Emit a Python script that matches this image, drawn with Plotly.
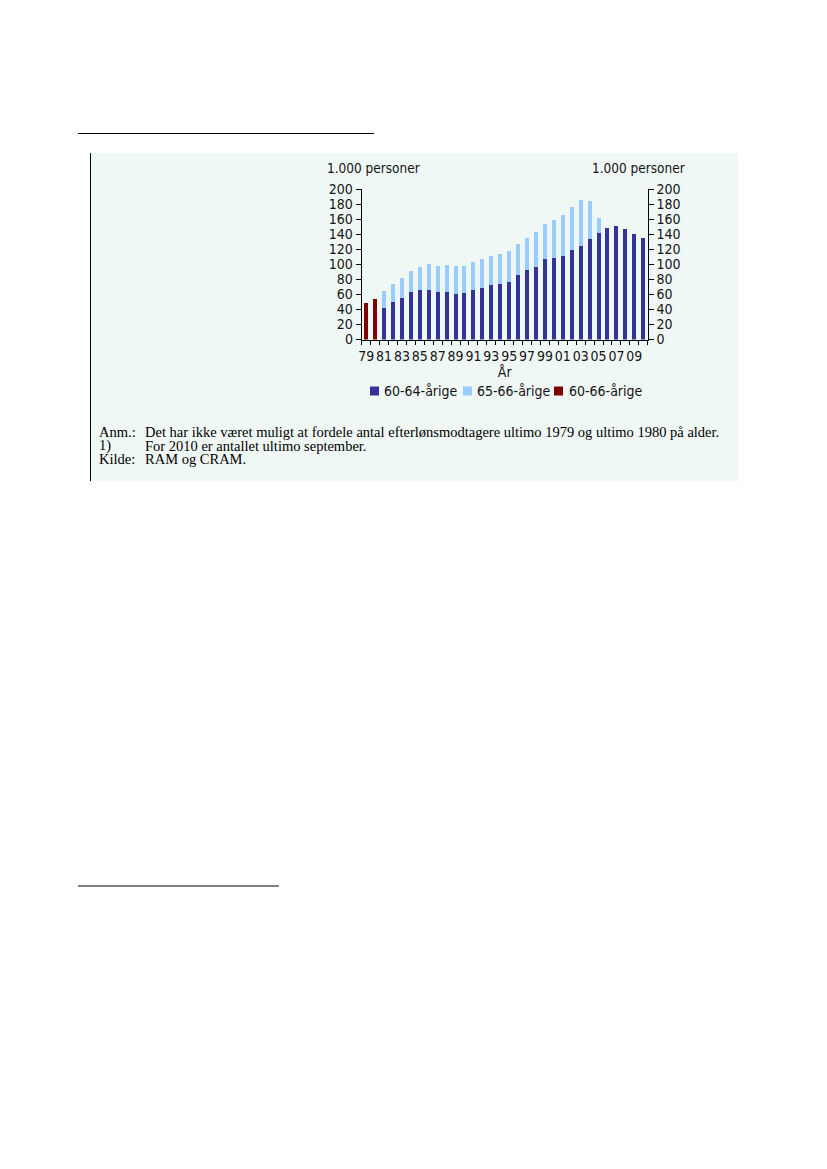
import plotly.graph_objects as go

W, H = 827, 1169

years_total = [1979, 1980]
total_60_66 = [48.1, 53.5]

years = list(range(1981, 2011))
age_60_64 = [41.4, 49.9, 54.8, 62.8, 65.5, 65.5, 62.8, 62.8, 60.1, 61.5,
             65.5, 68.2, 72.2, 73.5, 76.2, 85.5, 92.2, 96.2, 106.9, 108.2,
             110.9, 118.9, 124.3, 133.6, 141.6, 148.3, 151.0, 147.0, 140.3, 135.0]
age_65_66 = [22.7, 23.6, 26.7, 28.1, 30.7, 34.7, 34.7, 36.1, 37.4, 36.0,
             37.4, 38.7, 38.7, 40.1, 41.4, 41.4, 42.8, 46.8, 46.8, 50.8,
             54.8, 57.5, 61.4, 50.8, 20.1, 0, 0, 0, 0, 0]

tick_years = list(range(1979, 2010, 2))
tick_labels = [f"{y % 100:02d}" for y in tick_years]

series_names = ["60-64-årige", "65-66-årige", "60-66-årige"]
series_colors = ["#333399", "#99ccff", "#800000"]

FONT = "DejaVu Sans Condensed"
TXT = "#141414"
FS = 14

def px_x(x):
    return x / W

def px_y(y):
    return 1 - y / H

BW = 0.45
fig = go.Figure()
fig.add_trace(go.Bar(x=years, y=age_60_64, name=series_names[0],
                     marker=dict(color=series_colors[0], line=dict(width=0)), width=BW))
fig.add_trace(go.Bar(x=years, y=age_65_66, name=series_names[1],
                     marker=dict(color=series_colors[1], line=dict(width=0)), width=BW))
fig.add_trace(go.Bar(x=years_total, y=total_60_66, name=series_names[2],
                     marker=dict(color=series_colors[2], line=dict(width=0)), width=BW))
# invisible trace to anchor the right-hand axis
fig.add_trace(go.Scatter(x=[years[0]], y=[0], yaxis="y2", mode="markers",
                         marker=dict(opacity=0), showlegend=False, hoverinfo="skip"))

x0, x1 = 361.7, 647.7
ytop, ybot = 189.3, 339.5

yax_common = dict(
    range=[0, 200], dtick=20, tick0=0, tickmode="linear",
    ticks="outside", ticklen=5, tickcolor="black", tickwidth=1,
    showgrid=False, zeroline=False, automargin=False,
    showline=True, linecolor="black", linewidth=1,
    tickfont=dict(size=FS, color=TXT, family=FONT),
)

fig.update_layout(
    template="none",
    width=W, height=H, autosize=False,
    margin=dict(l=0, r=0, t=0, b=0, pad=0),
    paper_bgcolor="white",
    plot_bgcolor="rgba(0,0,0,0)",
    barmode="stack",
    showlegend=False,
    font=dict(family=FONT, size=FS, color=TXT),
    xaxis=dict(
        domain=[px_x(x0), px_x(x1)],
        range=[1978.5, 2010.5],
        tickmode="array", tickvals=tick_years, ticktext=tick_labels,
        tickangle=0,
        ticks="", showgrid=False, zeroline=False, automargin=False,
        showline=True, linecolor="black", linewidth=1,
        tickfont=dict(size=FS, color=TXT, family=FONT), ticklabelstandoff=4,
        minor=dict(tickmode="linear", tick0=1978.5, dtick=1, ticks="outside",
                   ticklen=4, tickcolor="black", tickwidth=1, showgrid=False),
        title=dict(text="År", font=dict(size=FS, color=TXT, family=FONT), standoff=1),
    ),
    yaxis=dict(domain=[px_y(ybot), px_y(ytop)], **yax_common),
    yaxis2=dict(overlaying="y", side="right", anchor="x", **yax_common),
    bargap=0.5,
)

# panel background and rules
fig.add_shape(type="rect", xref="paper", yref="paper",
              x0=px_x(90), x1=px_x(738), y0=px_y(481), y1=px_y(153),
              fillcolor="#f0f8f5", line=dict(width=0), layer="below")
fig.add_shape(type="line", xref="paper", yref="paper",
              x0=px_x(90.5), x1=px_x(90.5), y0=px_y(481), y1=px_y(153),
              line=dict(color="black", width=1))
fig.add_shape(type="line", xref="paper", yref="paper",
              x0=px_x(78), x1=px_x(374), y0=px_y(133.5), y1=px_y(133.5),
              line=dict(color="black", width=1))
fig.add_shape(type="line", xref="paper", yref="paper",
              x0=px_x(78), x1=px_x(279), y0=px_y(886), y1=px_y(886),
              line=dict(color="black", width=1))

# compact legend (squares + labels)
leg_sq = [370, 463, 554]
leg_tx = [383, 476, 568]
for name, col, sx, tx in zip(series_names, series_colors, leg_sq, leg_tx):
    fig.add_shape(type="rect", xref="paper", yref="paper",
                  x0=px_x(sx), x1=px_x(sx + 9), y0=px_y(395.5), y1=px_y(386.5),
                  fillcolor=col, line=dict(width=0))
    fig.add_annotation(text=name, xref="paper", yref="paper",
                       x=px_x(tx - 1), y=px_y(391), xanchor="left", yanchor="middle",
                       showarrow=False, font=dict(size=FS, color=TXT, family=FONT))

# axis unit titles
fig.add_annotation(text="1.000 personer", xref="paper", yref="paper",
                   x=px_x(325), y=px_y(168), xanchor="left", yanchor="middle",
                   showarrow=False, font=dict(size=13.5, color=TXT, family=FONT))
fig.add_annotation(text="1.000 personer", xref="paper", yref="paper",
                   x=px_x(687), y=px_y(168), xanchor="right", yanchor="middle",
                   showarrow=False, font=dict(size=13.5, color=TXT, family=FONT))

# footnotes
notes = [("Anm.:", "Det har ikke været muligt at fordele antal efterlønsmodtagere ultimo 1979 og ultimo 1980 på alder.", 432),
         ("1)", "For 2010 er antallet ultimo september.", 445.5),
         ("Kilde:", "RAM og CRAM.", 459)]
for lab, txt, yy in notes:
    fig.add_annotation(text=lab, xref="paper", yref="paper", x=px_x(98), y=px_y(yy),
                       xanchor="left", yanchor="middle", showarrow=False, borderpad=0,
                       font=dict(family="Liberation Serif", size=14.5, color="black"))
    fig.add_annotation(text=txt, xref="paper", yref="paper", x=px_x(144), y=px_y(yy),
                       xanchor="left", yanchor="middle", showarrow=False, borderpad=0,
                       font=dict(family="Liberation Serif", size=14.5, color="black"))

fig.write_html("out.html", config={"displayModeBar": False},
               post_script="document.body.style.margin='0';")
